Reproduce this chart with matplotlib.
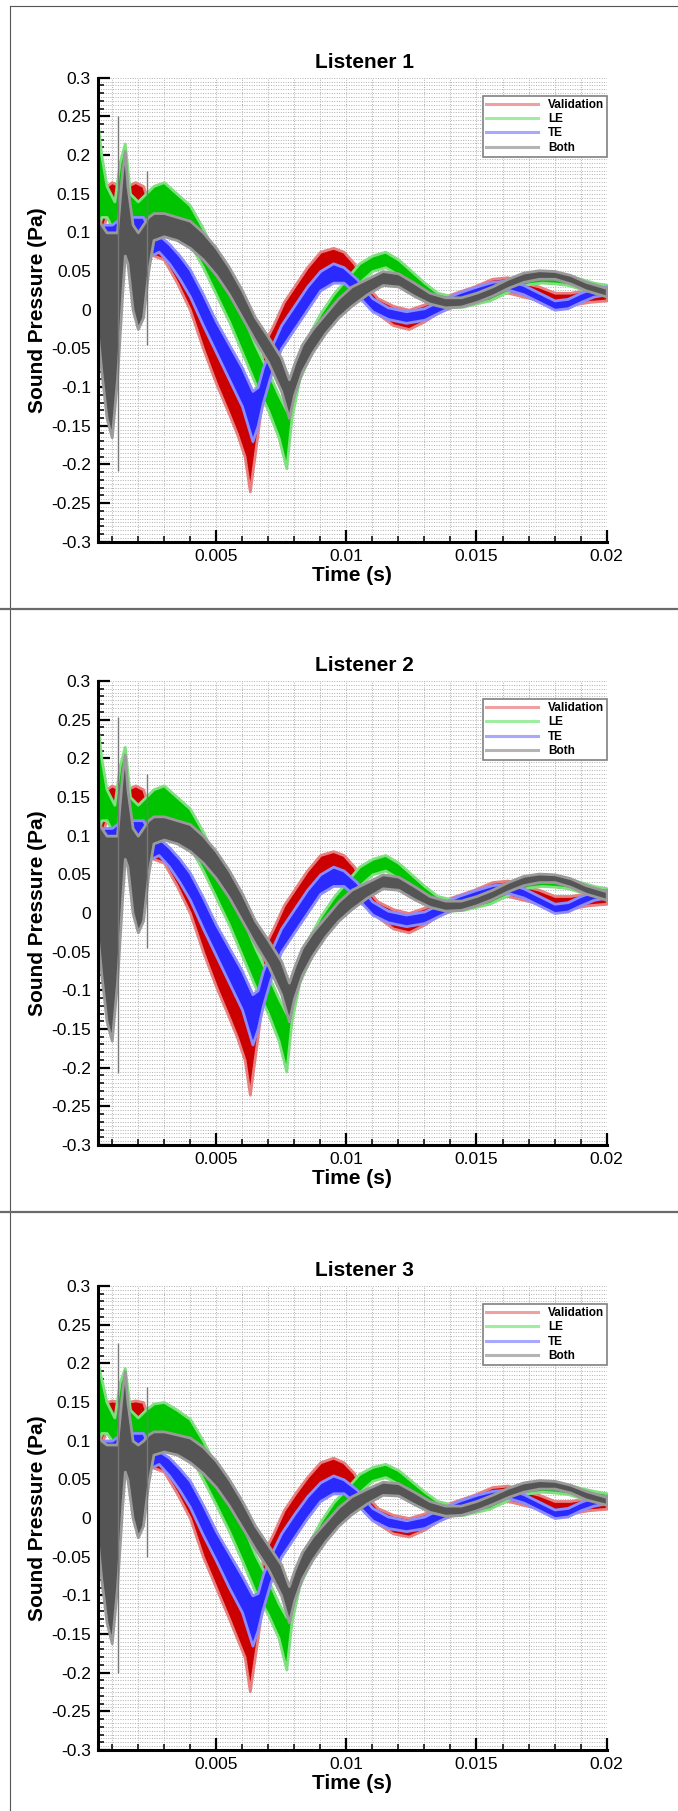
import matplotlib
matplotlib.use("Agg")
import matplotlib.pyplot as plt
from matplotlib.lines import Line2D
from matplotlib.ticker import MultipleLocator, FuncFormatter
import numpy as np

plt.rcParams['font.family'] = ['Liberation Sans', 'DejaVu Sans']
plt.rcParams['axes.unicode_minus'] = False

titles = ["Listener 1", "Listener 2", "Listener 3"]
series_names = ["Validation", "LE", "TE", "Both"]

# ---- time samples per series (s) ----
T_VAL = [0.00046, 0.0006, 0.0008, 0.0010, 0.0013, 0.0016, 0.0019, 0.0022, 0.0024, 0.0026,
         0.0030, 0.0035, 0.0040, 0.0045, 0.0050, 0.0055, 0.0058, 0.0061, 0.0063, 0.0066,
         0.0069, 0.0072, 0.0076, 0.0080, 0.0085, 0.0090, 0.0095, 0.0099, 0.0103, 0.0107,
         0.0112, 0.0118, 0.0124, 0.0130, 0.0136, 0.0142, 0.0149, 0.0156, 0.0162, 0.0168,
         0.0174, 0.0180, 0.0186, 0.0193, 0.0200]
T_LE = [0.00046, 0.0006, 0.0008, 0.0011, 0.0013, 0.0015, 0.0017, 0.0020, 0.0023, 0.0026,
        0.0030, 0.0035, 0.0040, 0.0045, 0.0050, 0.0055, 0.0060, 0.0065, 0.0070, 0.0074,
        0.0077, 0.0079, 0.0082, 0.0086, 0.0090, 0.0095, 0.0100, 0.0105, 0.0110, 0.0115,
        0.0120, 0.0125, 0.0130, 0.0135, 0.0140, 0.0145, 0.0150, 0.0155, 0.0160, 0.0165,
        0.0170, 0.0175, 0.0180, 0.0185, 0.0190, 0.0195, 0.0200]
T_TE = [0.00046, 0.0007, 0.0010, 0.0014, 0.0018, 0.0022, 0.0025, 0.0028, 0.0032, 0.0036,
        0.0040, 0.0045, 0.0050, 0.0055, 0.0060, 0.0064, 0.0066, 0.0068, 0.0071, 0.0075,
        0.0080, 0.0085, 0.0090, 0.0095, 0.0099, 0.0104, 0.0110, 0.0116, 0.0123, 0.0130,
        0.0136, 0.0143, 0.0150, 0.0156, 0.0162, 0.0168, 0.0174, 0.0180, 0.0185, 0.0190,
        0.0195, 0.0200]
T_BOTH = [0.00046, 0.0006, 0.0008, 0.0010, 0.0012, 0.0014, 0.0015, 0.0016, 0.0018, 0.0020,
          0.0022, 0.0024, 0.0026, 0.0030, 0.0035, 0.0040, 0.0045, 0.0050, 0.0055, 0.0060,
          0.0065, 0.0070, 0.0075, 0.0078, 0.0080, 0.0083, 0.0087, 0.0092, 0.0097, 0.0102,
          0.0108, 0.0114, 0.0120, 0.0126, 0.0132, 0.0138, 0.0144, 0.0150, 0.0156, 0.0162,
          0.0168, 0.0174, 0.0180, 0.0186, 0.0192, 0.0200]

# ---- Listener 1: lower / upper edge of each noisy trace (Pa) ----
VAL1_LO = [-0.01, 0.10, 0.12, 0.13, 0.12, 0.13, 0.135, 0.13, 0.09, 0.07,
           0.065, 0.035, 0.0, -0.05, -0.095, -0.135, -0.16, -0.19, -0.235, -0.16,
           -0.08, -0.055, -0.03, -0.005, 0.02, 0.04, 0.05, 0.045, 0.03, 0.01,
           -0.005, -0.02, -0.025, -0.015, -0.002, 0.005, 0.012, 0.02, 0.022, 0.017,
           0.012, 0.005, 0.006, 0.01, 0.012]
VAL1_HI = [0.16, 0.165, 0.16, 0.165, 0.16, 0.16, 0.165, 0.16, 0.14, 0.095,
           0.085, 0.068, 0.045, 0.0, -0.04, -0.08, -0.105, -0.13, -0.15, -0.09,
           -0.04, -0.02, 0.01, 0.03, 0.055, 0.075, 0.08, 0.075, 0.06, 0.035,
           0.015, 0.005, 0.0, 0.007, 0.015, 0.022, 0.03, 0.04, 0.042, 0.035,
           0.03, 0.022, 0.022, 0.026, 0.028]
LE1_LO = [0.10, 0.12, 0.12, 0.10, 0.12, 0.13, 0.11, 0.11, 0.11, 0.115,
          0.115, 0.10, 0.085, 0.055, 0.02, -0.015, -0.055, -0.095, -0.13, -0.165,
          -0.205, -0.14, -0.09, -0.06, -0.035, -0.01, 0.015, 0.035, 0.05, 0.055,
          0.045, 0.03, 0.015, 0.005, 0.003, 0.004, 0.008, 0.012, 0.02, 0.028,
          0.033, 0.035, 0.034, 0.032, 0.027, 0.022, 0.02]
LE1_HI = [0.24, 0.20, 0.16, 0.14, 0.19, 0.215, 0.15, 0.14, 0.15, 0.16,
          0.165, 0.15, 0.135, 0.105, 0.07, 0.03, -0.005, -0.045, -0.08, -0.11,
          -0.13, -0.09, -0.055, -0.03, -0.005, 0.02, 0.04, 0.06, 0.07, 0.075,
          0.065, 0.05, 0.035, 0.022, 0.018, 0.02, 0.022, 0.028, 0.035, 0.042,
          0.047, 0.048, 0.047, 0.044, 0.04, 0.035, 0.032]
TE1_LO = [-0.03, 0.02, 0.06, 0.08, 0.09, 0.09, 0.07, 0.075, 0.06, 0.04,
          0.017, -0.02, -0.055, -0.09, -0.125, -0.17, -0.15, -0.12, -0.085, -0.05,
          -0.025, 0.0, 0.025, 0.035, 0.035, 0.02, -0.002, -0.012, -0.017, -0.013,
          -0.003, 0.008, 0.017, 0.023, 0.026, 0.02, 0.01, 0.0, 0.002, 0.01,
          0.017, 0.02]
TE1_HI = [0.10, 0.11, 0.11, 0.12, 0.12, 0.12, 0.10, 0.097, 0.085, 0.07,
          0.052, 0.02, -0.015, -0.045, -0.075, -0.105, -0.1, -0.075, -0.05, -0.02,
          0.005, 0.03, 0.05, 0.06, 0.055, 0.04, 0.015, 0.003, -0.002, 0.002,
          0.012, 0.022, 0.03, 0.036, 0.038, 0.032, 0.022, 0.012, 0.014, 0.022,
          0.028, 0.03]
BOTH1_LO = [-0.03, -0.08, -0.14, -0.165, -0.09, 0.02, 0.07, 0.06, 0.0, -0.025,
            -0.01, 0.05, 0.09, 0.095, 0.09, 0.08, 0.065, 0.045, 0.02, -0.01,
            -0.04, -0.068, -0.105, -0.14, -0.11, -0.08, -0.055, -0.03, -0.01, 0.005,
            0.02, 0.032, 0.03, 0.018, 0.008, 0.003, 0.004, 0.01, 0.018, 0.028,
            0.036, 0.04, 0.04, 0.034, 0.025, 0.017]
BOTH1_HI = [0.12, 0.11, 0.10, 0.10, 0.10, 0.18, 0.205, 0.16, 0.11, 0.10,
            0.11, 0.12, 0.125, 0.125, 0.12, 0.115, 0.10, 0.08, 0.055, 0.025,
            -0.01, -0.035, -0.062, -0.09, -0.07, -0.045, -0.025, -0.005, 0.015, 0.03,
            0.04, 0.05, 0.047, 0.035, 0.022, 0.016, 0.016, 0.022, 0.03, 0.04,
            0.048, 0.051, 0.05, 0.045, 0.036, 0.028]
SPIKE1_T = [0.00125, 0.00237]
SPIKE1_LO = [-0.209, -0.046]
SPIKE1_HI = [0.251, 0.18]

# ---- Listener 2 reads the same as listener 1 at this resolution ----
VAL2_LO, VAL2_HI = VAL1_LO, VAL1_HI
LE2_LO, LE2_HI = LE1_LO, LE1_HI
TE2_LO, TE2_HI = TE1_LO, TE1_HI
BOTH2_LO, BOTH2_HI = BOTH1_LO, BOTH1_HI
SPIKE2_T = [0.00125, 0.00237]
SPIKE2_LO = [-0.207, -0.045]
SPIKE2_HI = [0.253, 0.18]

# ---- Listener 3 ----
VAL3_LO = [-0.01, 0.095, 0.115, 0.125, 0.115, 0.125, 0.125, 0.12, 0.085, 0.065,
           0.06, 0.032, 0.0, -0.05, -0.09, -0.13, -0.155, -0.18, -0.224, -0.155,
           -0.08, -0.055, -0.03, -0.005, 0.018, 0.038, 0.048, 0.043, 0.028, 0.008,
           -0.007, -0.02, -0.024, -0.015, -0.002, 0.005, 0.012, 0.02, 0.022, 0.017,
           0.012, 0.005, 0.006, 0.01, 0.012]
VAL3_HI = [0.15, 0.152, 0.15, 0.152, 0.15, 0.15, 0.152, 0.15, 0.13, 0.09,
           0.08, 0.065, 0.045, 0.0, -0.04, -0.075, -0.1, -0.125, -0.145, -0.085,
           -0.04, -0.02, 0.01, 0.03, 0.053, 0.072, 0.078, 0.072, 0.058, 0.033,
           0.013, 0.004, 0.0, 0.006, 0.015, 0.022, 0.03, 0.04, 0.042, 0.035,
           0.03, 0.022, 0.022, 0.026, 0.028]
LE3_LO = [0.09, 0.11, 0.11, 0.095, 0.11, 0.12, 0.10, 0.10, 0.10, 0.106,
          0.106, 0.095, 0.08, 0.05, 0.017, -0.017, -0.055, -0.095, -0.125, -0.155,
          -0.196, -0.135, -0.088, -0.058, -0.034, -0.01, 0.014, 0.033, 0.048, 0.053,
          0.044, 0.03, 0.015, 0.005, 0.003, 0.004, 0.008, 0.012, 0.02, 0.028,
          0.032, 0.034, 0.033, 0.031, 0.026, 0.022, 0.02]
LE3_HI = [0.20, 0.18, 0.15, 0.13, 0.175, 0.194, 0.14, 0.13, 0.14, 0.148,
          0.15, 0.14, 0.128, 0.10, 0.067, 0.027, -0.007, -0.047, -0.08, -0.11,
          -0.128, -0.088, -0.054, -0.03, -0.005, 0.02, 0.038, 0.057, 0.066, 0.07,
          0.062, 0.048, 0.034, 0.022, 0.018, 0.02, 0.022, 0.028, 0.035, 0.041,
          0.046, 0.047, 0.046, 0.043, 0.039, 0.035, 0.032]
TE3_LO = [-0.03, 0.02, 0.055, 0.075, 0.085, 0.085, 0.065, 0.07, 0.055, 0.036,
          0.014, -0.022, -0.055, -0.09, -0.122, -0.165, -0.145, -0.117, -0.083, -0.05,
          -0.025, 0.0, 0.022, 0.032, 0.032, 0.018, -0.003, -0.013, -0.017, -0.013,
          -0.003, 0.008, 0.017, 0.023, 0.026, 0.02, 0.01, 0.0, 0.002, 0.01,
          0.016, 0.019]
TE3_HI = [0.095, 0.10, 0.10, 0.11, 0.11, 0.11, 0.09, 0.087, 0.078, 0.064,
          0.048, 0.017, -0.017, -0.046, -0.075, -0.1, -0.097, -0.073, -0.048, -0.02,
          0.005, 0.028, 0.046, 0.055, 0.05, 0.037, 0.013, 0.002, -0.003, 0.002,
          0.012, 0.022, 0.03, 0.035, 0.037, 0.031, 0.021, 0.011, 0.013, 0.021,
          0.027, 0.029]
BOTH3_LO = [-0.03, -0.08, -0.135, -0.162, -0.09, 0.015, 0.06, 0.05, 0.0, -0.025,
            -0.01, 0.045, 0.082, 0.086, 0.082, 0.072, 0.058, 0.04, 0.016, -0.012,
            -0.04, -0.066, -0.1, -0.135, -0.107, -0.078, -0.054, -0.03, -0.01, 0.005,
            0.019, 0.03, 0.029, 0.018, 0.008, 0.003, 0.004, 0.01, 0.018, 0.027,
            0.034, 0.038, 0.038, 0.033, 0.024, 0.017]
BOTH3_HI = [0.11, 0.10, 0.095, 0.095, 0.095, 0.165, 0.19, 0.15, 0.10, 0.095,
            0.10, 0.108, 0.112, 0.112, 0.108, 0.104, 0.092, 0.074, 0.05, 0.022,
            -0.01, -0.035, -0.06, -0.088, -0.068, -0.044, -0.024, -0.005, 0.014, 0.028,
            0.038, 0.047, 0.045, 0.034, 0.022, 0.016, 0.016, 0.022, 0.03, 0.039,
            0.046, 0.049, 0.048, 0.043, 0.035, 0.027]
SPIKE3_T = [0.00125, 0.00237]
SPIKE3_LO = [-0.20, -0.05]
SPIKE3_HI = [0.226, 0.17]

panels = [
    (VAL1_LO, VAL1_HI, LE1_LO, LE1_HI, TE1_LO, TE1_HI, BOTH1_LO, BOTH1_HI, SPIKE1_T, SPIKE1_LO, SPIKE1_HI),
    (VAL2_LO, VAL2_HI, LE2_LO, LE2_HI, TE2_LO, TE2_HI, BOTH2_LO, BOTH2_HI, SPIKE2_T, SPIKE2_LO, SPIKE2_HI),
    (VAL3_LO, VAL3_HI, LE3_LO, LE3_HI, TE3_LO, TE3_HI, BOTH3_LO, BOTH3_HI, SPIKE3_T, SPIKE3_LO, SPIKE3_HI),
]

colors = ["#cc0000", "#00c400", "#2a2aff", "#555555"]
edges = ["#e88080", "#80e080", "#8c8cff", "#9a9a9a"]
legend_colors = ["#f0a0a0", "#a0eca0", "#a8a8ff", "#b4b4b4"]

W, H = 678, 1811
fig = plt.figure(figsize=(W / 100, H / 100), dpi=100)
fig.patch.set_facecolor("white")


def fx(x):
    return x / W


def fy(y):
    return 1 - y / H


# panel frames
fig.add_artist(Line2D([fx(9.5), fx(9.5)], [fy(6), fy(H)], transform=fig.transFigure, color="#555555", lw=0.8))
fig.add_artist(Line2D([fx(9.5), 1], [fy(6), fy(6)], transform=fig.transFigure, color="#555555", lw=0.8))
for ysep in [608.5, 1212]:
    fig.add_artist(Line2D([0, 1], [fy(ysep), fy(ysep)], transform=fig.transFigure, color="#6a6a6a", lw=1.6))

left, right = 97.7, 606.7
ax_h = 464
tops = [77.7, 681, 1286]

fmt = FuncFormatter(lambda v, p: "0" if abs(v) < 1e-9 else "%g" % round(v, 4))

for k, top in enumerate(tops):
    vlo, vhi, llo, lhi, tlo, thi, blo, bhi, st, slo, shi = panels[k]
    ax = fig.add_axes([fx(left), fy(top + ax_h), (right - left) / W, ax_h / H])
    ax.set_xlim(0.00046, 0.02)
    ax.set_ylim(-0.3, 0.3)

    # dotted grid
    for gx in np.arange(0.001, 0.02001, 0.001):
        ax.axvline(gx, color="#b0b0b0", lw=0.7, ls=(0, (1, 1.5)), zorder=0)
    for gy in np.arange(-0.3, 0.3001, 0.005):
        ax.axhline(gy, color="#b0b0b0", lw=0.7, ls=(0, (1, 1.5)), zorder=0)

    bands = [(T_VAL, vlo, vhi), (T_LE, llo, lhi), (T_TE, tlo, thi), (T_BOTH, blo, bhi)]
    for i, (t, lo, hi) in enumerate(bands):
        ax.fill_between(t, lo, hi, facecolor=colors[i], edgecolor=edges[i], lw=2.0, zorder=2 + i)
    ax.vlines(st, slo, shi, color="#777777", lw=1.0, zorder=6)

    for s in ["top", "right"]:
        ax.spines[s].set_visible(False)
    for s in ["left", "bottom"]:
        ax.spines[s].set_linewidth(2.2)
        ax.spines[s].set_zorder(10)

    ax.xaxis.set_major_locator(MultipleLocator(0.005))
    ax.xaxis.set_minor_locator(MultipleLocator(0.001))
    ax.yaxis.set_major_locator(MultipleLocator(0.05))
    ax.yaxis.set_minor_locator(MultipleLocator(0.01))
    ax.xaxis.set_major_formatter(fmt)
    ax.yaxis.set_major_formatter(fmt)
    ax.tick_params(which="major", direction="in", length=8.5, width=1.6, labelsize=12.5, pad=5,
                   top=False, right=False)
    ax.tick_params(which="minor", direction="in", length=4.2, width=1.1, top=False, right=False)

    ax.text(0.525, 1 + 10 / ax_h, titles[k], transform=ax.transAxes,
            ha="center", va="baseline", fontsize=15, fontweight="bold")
    ax.text(0.5, -33.5 / ax_h, "Time (s)", transform=ax.transAxes,
            ha="center", va="center", fontsize=15, fontweight="bold")
    ax.text((37.5 - left) / (right - left), 0.5, "Sound Pressure (Pa)", transform=ax.transAxes,
            ha="center", va="center", rotation=90, fontsize=15, fontweight="bold")

    handles = [Line2D([], [], color=c, lw=2.2) for c in legend_colors]
    leg = ax.legend(handles, series_names, loc="upper right", bbox_to_anchor=(1.0012, 0.961),
                    borderaxespad=0, prop={"weight": "bold", "size": 8.5}, handlelength=4.4,
                    handletextpad=0.9, labelspacing=0.2, borderpad=0.25, fancybox=False,
                    edgecolor="#808080", framealpha=1)
    leg.get_frame().set_linewidth(1.2)
    leg.set_zorder(12)

fig.savefig("out.png", dpi=100, facecolor="white")
